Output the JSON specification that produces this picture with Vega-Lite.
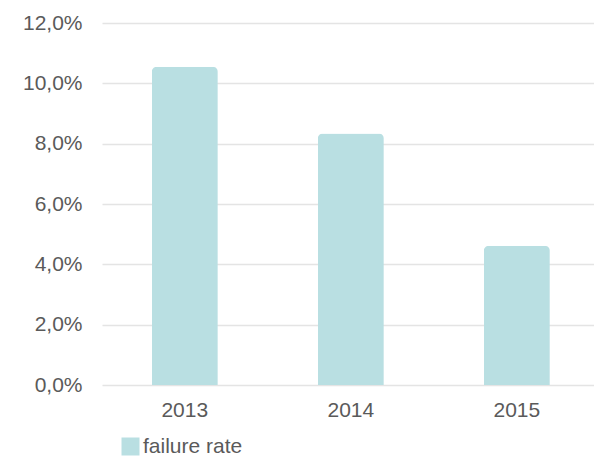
{
  "$schema": "https://vega.github.io/schema/vega-lite/v6.json",
  "autosize": {"type": "none"},
  "padding": {"left": 102, "top": 23, "right": 0, "bottom": 74},
  "width": 492,
  "height": 362,
  "background": "white",
  "data": {
    "values": [
      {"year": "2013", "rate": 0.1055, "series": "failure rate"},
      {"year": "2014", "rate": 0.0834, "series": "failure rate"},
      {"year": "2015", "rate": 0.0462, "series": "failure rate"}
    ]
  },
  "mark": {"type": "bar", "cornerRadiusTopLeft": 5, "cornerRadiusTopRight": 5},
  "encoding": {
    "x": {
      "field": "year",
      "type": "nominal",
      "title": null,
      "scale": {"paddingInner": 0.6024, "paddingOuter": 0.283, "align": 0.53},
      "axis": {
        "labelAngle": 0,
        "ticks": false,
        "domain": false,
        "grid": false,
        "labelPadding": 14,
        "labelFont": "Liberation Sans",
        "labelFontSize": 21,
        "labelColor": "#5a5a5a"
      }
    },
    "y": {
      "field": "rate",
      "type": "quantitative",
      "title": null,
      "scale": {"domain": [0, 0.12], "nice": false},
      "axis": {
        "values": [0, 0.02, 0.04, 0.06, 0.08, 0.1, 0.12],
        "labelExpr": "replace(format(datum.value, '.1%'), '.', ',')",
        "ticks": false,
        "domain": false,
        "gridColor": "#e4e4e4",
        "gridWidth": 1.5,
        "labelPadding": 20,
        "labelFont": "Liberation Sans",
        "labelFontSize": 21,
        "labelColor": "#5a5a5a"
      }
    },
    "color": {
      "field": "series",
      "type": "nominal",
      "title": null,
      "scale": {"range": ["#b9dfe2"]},
      "legend": {
        "orient": "none",
        "legendX": 18,
        "legendY": 413,
        "symbolType": "square",
        "symbolSize": 324,
        "symbolStrokeWidth": 0,
        "labelOffset": 2,
        "labelFont": "Liberation Sans",
        "labelFontSize": 21,
        "labelColor": "#5a5a5a"
      }
    }
  },
  "config": {"view": {"stroke": null}}
}
